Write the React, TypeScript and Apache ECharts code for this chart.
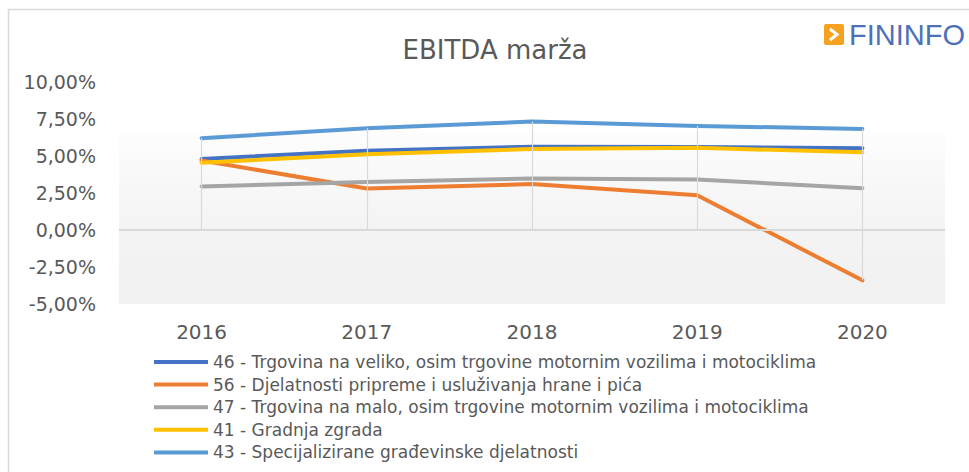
import React, { useEffect, useRef } from "react";
import * as echarts from "echarts";

const categories = ["2016", "2017", "2018", "2019", "2020"];
const seriesNames = [
  "46 - Trgovina na veliko, osim trgovine motornim vozilima i motociklima",
  "56 - Djelatnosti pripreme i usluživanja hrane i pića",
  "47 - Trgovina na malo, osim trgovine motornim vozilima i motociklima",
  "41 - Gradnja zgrada",
  "43 - Specijalizirane građevinske djelatnosti",
];
const trgovinaVeliko = [4.8, 5.36, 5.63, 5.6, 5.52];
const ugostiteljstvo = [4.7, 2.8, 3.1, 2.35, -3.4];
const trgovinaMalo = [2.94, 3.25, 3.48, 3.41, 2.82];
const gradnjaZgrada = [4.55, 5.11, 5.47, 5.55, 5.25];
const specijalizirane = [6.2, 6.88, 7.33, 7.03, 6.83];
const seriesValues = [trgovinaVeliko, ugostiteljstvo, trgovinaMalo, gradnjaZgrada, specijalizirane];
const seriesColors = ["#4472c4", "#ed7d31", "#a5a5a5", "#ffc000", "#5b9bd5"];
const yTicks = { min: -5, max: 10, interval: 2.5 };
const plotAreaTop = 6.7;

const FONT = "'DejaVu Sans', sans-serif";

export default function App() {
  const ref = useRef<HTMLDivElement>(null);
  useEffect(() => {
    if (!ref.current) return;
    const chart = echarts.init(ref.current, undefined, { renderer: "svg" });
    const dropLines = categories.map((c, i) => {
      const vals = seriesValues.map((s) => s[i]);
      const hi = Math.max(...vals, 0);
      const lo = Math.min(...vals, 0);
      return [{ coord: [c, hi] }, { coord: [c, lo] }];
    });
    const lineSeries = seriesNames.map((name, k) => ({
      name,
      type: "line",
      data: seriesValues[k],
      symbol: "none",
      z: 3,
      lineStyle: { width: 4, color: seriesColors[k], cap: "round", join: "round" },
      itemStyle: { color: seriesColors[k] },
    }));
    chart.setOption({
      animation: false,
      backgroundColor: "#ffffff",
      title: {
        text: "EBITDA marža",
        left: 490,
        textAlign: "center",
        top: 32,
        textStyle: { fontFamily: FONT, fontSize: 26, fontWeight: "normal", color: "#595959" },
      },
      graphic: [
        {
          type: "rect",
          shape: { x: 8.5, y: 9.5, width: 990, height: 490 },
          style: { fill: "none", stroke: "#d9d9d9", lineWidth: 1.5 },
          silent: true,
        },
        {
          type: "rect",
          shape: { x: 824, y: 24, width: 20, height: 21, r: 2 },
          style: { fill: "#f5a31f" },
        },
        {
          type: "polyline",
          shape: { points: [[830, 29], [837, 34.5], [830, 40]] },
          style: { stroke: "#ffffff", lineWidth: 3, fill: "none" },
        },
        {
          type: "text",
          x: 849,
          y: 35,
          style: {
            text: "FININFO",
            fontFamily: "'Liberation Sans', sans-serif",
            fontSize: 29,
            fill: "#4c71b8",
            verticalAlign: "middle",
            align: "left",
          },
        },
      ],
      legend: {
        data: seriesNames,
        orient: "vertical",
        left: 149,
        top: 347,
        itemWidth: 54,
        itemHeight: 4,
        itemGap: 2.6,
        icon: "rect",
        textStyle: { fontFamily: FONT, fontSize: 17, lineHeight: 20, color: "#595959" },
      },
      grid: { left: 119, right: 24, top: 82, bottom: 168 },
      xAxis: {
        type: "category",
        data: categories,
        boundaryGap: true,
        axisLine: { show: false, onZero: false },
        axisTick: { show: false },
        splitLine: { show: false },
        axisLabel: { fontFamily: FONT, fontSize: 20, color: "#595959", margin: 18 },
      },
      yAxis: {
        type: "value",
        min: yTicks.min,
        max: yTicks.max,
        interval: yTicks.interval,
        axisLine: { show: false },
        axisTick: { show: false },
        splitLine: { show: false },
        axisLabel: {
          fontFamily: FONT,
          fontSize: 19,
          color: "#595959",
          margin: 23,
          formatter: (v: number) => v.toFixed(2).replace(".", ",") + "%",
        },
      },
      series: [
        {
          name: "__bg",
          type: "line",
          data: [],
          z: 1,
          silent: true,
          markArea: {
            silent: true,
            itemStyle: {
              color: new echarts.graphic.LinearGradient(0, 0, 0, 1, [
                { offset: 0, color: "#fdfdfd" },
                { offset: 0.57, color: "#f3f3f3" },
                { offset: 1, color: "#f1f1f1" },
              ]),
            },
            data: [[{ yAxis: plotAreaTop }, { yAxis: yTicks.min }]],
          },
          markLine: {
            silent: true,
            symbol: "none",
            label: { show: false },
            lineStyle: { color: "#d9d9d9", width: 1.2, type: "solid" },
            data: [{ yAxis: 0, lineStyle: { width: 2 } }, ...dropLines],
          },
        },
        ...lineSeries,
      ],
    });
    return () => chart.dispose();
  }, []);
  return (
    <div
      ref={ref}
      style={{ position: "fixed", left: 0, top: 0, width: 969, height: 472 }}
    />
  );
}
